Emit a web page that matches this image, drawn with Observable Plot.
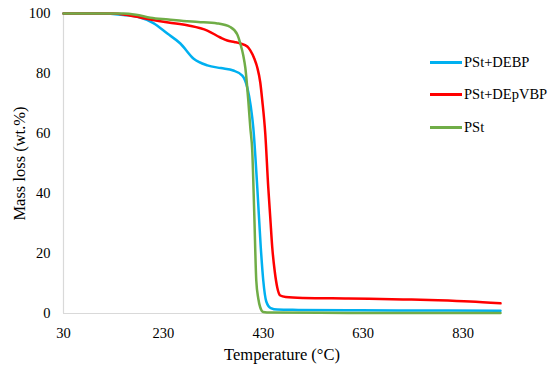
<!DOCTYPE html>
<html>
<head>
<meta charset="utf-8">
<script src="https://cdn.jsdelivr.net/npm/d3@7"></script>
<script src="https://cdn.jsdelivr.net/npm/@observablehq/plot@0.6"></script>
<style>
  body { margin: 0; background: #fff; }
  #wrap { position: relative; width: 550px; height: 370px; }
  #legend { position: absolute; left: 430px; top: 46px; font-size: 14.5px; color: #000; }
  #legend .item { display: flex; align-items: center; height: 32.5px; }
  #legend .sw { width: 32px; height: 3px; margin-right: 2px; }
</style>
</head>
<body>
<div id="wrap"><div id="legend"></div></div>
<script>
const FONT = "'Liberation Serif', 'Times New Roman', serif";
const seriesNames = ["PSt+DEBP", "PSt+DEpVBP", "PSt"];
const seriesColors = ["#00B0F0", "#FF0000", "#70AD47"];

const debpT = [30,100,150,180,210,238,264,290,318,345,370,388,398,405,410,418,425,430,436,445,458,500,600,700,800,905];
const debpM = [100,100,99.5,98.8,96.8,93.3,90,85,82.7,81.8,81,79.3,75.3,69,62,42,22,11,4,1.8,1.3,1.2,1.1,1.0,1.0,0.9];

const depvbpT = [30,130,160,204,240,280,318,344,358,372,384,398,404,412,418,424,428,434,440,444,448,453,458,464,475,510,600,710,780,844,905];
const depvbpM = [100,100,99.4,98,97,96,94.3,92,91,90.5,90,89,87.7,85,82,77,71,60,42,32,22,14,8.7,6,5.5,5.2,5.0,4.7,4.4,4.0,3.4];

const pstT = [30,150,175,204,240,270,300,338,364,378,384,390,394,400,404,408,412,416,420,424,430,445,600,905];
const pstM = [100,100,99.6,98.6,98,97.5,97.2,96.7,95.5,93,90,86,82,71,62,54,33,11,5,2,0.5,0.3,0.2,0.2];

const xTicks = [30, 230, 430, 630, 830];
const yTicks = [0, 20, 40, 60, 80, 100];

function rows(name, T, M) { return T.map((t, i) => ({series: name, t, m: M[i]})); }
const data = [
  ...rows(seriesNames[0], debpT, debpM),
  ...rows(seriesNames[1], depvbpT, depvbpM),
  ...rows(seriesNames[2], pstT, pstM)
];

const chart = Plot.plot({
  width: 550,
  height: 370,
  marginLeft: 63,
  marginRight: 50,
  marginTop: 13,
  marginBottom: 57,
  style: {fontSize: "14.5px", color: "#000", background: "#fff", fontFamily: FONT},
  x: {domain: [30, 905], ticks: xTicks, tickSize: 0, tickPadding: 14, label: "Temperature (°C)", labelArrow: "none", labelAnchor: "center", labelOffset: 46},
  y: {domain: [0, 100], ticks: yTicks, tickSize: 0, tickPadding: 13, label: "Mass loss (wt.%)", labelArrow: "none", labelAnchor: "center", labelOffset: 50},
  color: {domain: seriesNames, range: seriesColors},
  marks: [
    Plot.ruleX([30], {stroke: "#d9d9d9", strokeWidth: 1.2}),
    Plot.ruleY([0], {stroke: "#d9d9d9", strokeWidth: 1.2}),
    Plot.line(data.filter(d => d.series === "PSt+DEBP"), {x: "t", y: "m", stroke: "series", strokeWidth: 2.5, curve: "monotone-x"}),
    Plot.line(data.filter(d => d.series === "PSt+DEpVBP"), {x: "t", y: "m", stroke: "series", strokeWidth: 2.5, curve: "monotone-x"}),
    Plot.line(data.filter(d => d.series === "PSt"), {x: "t", y: "m", stroke: "series", strokeWidth: 2.5, curve: "monotone-x"})
  ]
});
chart.setAttribute("font-family", FONT);
chart.style.fontFamily = FONT;
chart.querySelectorAll("g, text").forEach(el => { el.setAttribute("font-family", FONT); el.style.fontFamily = FONT; });
chart.querySelectorAll("[aria-label='x-axis label'] text, [aria-label='y-axis label'] text").forEach(t => {
  t.setAttribute("font-size", "16.5px");
  t.textContent = t.textContent.replace(/\s*[↑→←↓]\s*/g, "");
});
document.getElementById("wrap").prepend(chart);

const legend = document.getElementById("legend");
legend.style.fontFamily = FONT;
seriesNames.forEach((n, i) => {
  const item = document.createElement("div");
  item.className = "item";
  item.innerHTML = `<span class="sw" style="background:${seriesColors[i]}"></span><span>${n}</span>`;
  legend.appendChild(item);
});
</script>
</body>
</html>
